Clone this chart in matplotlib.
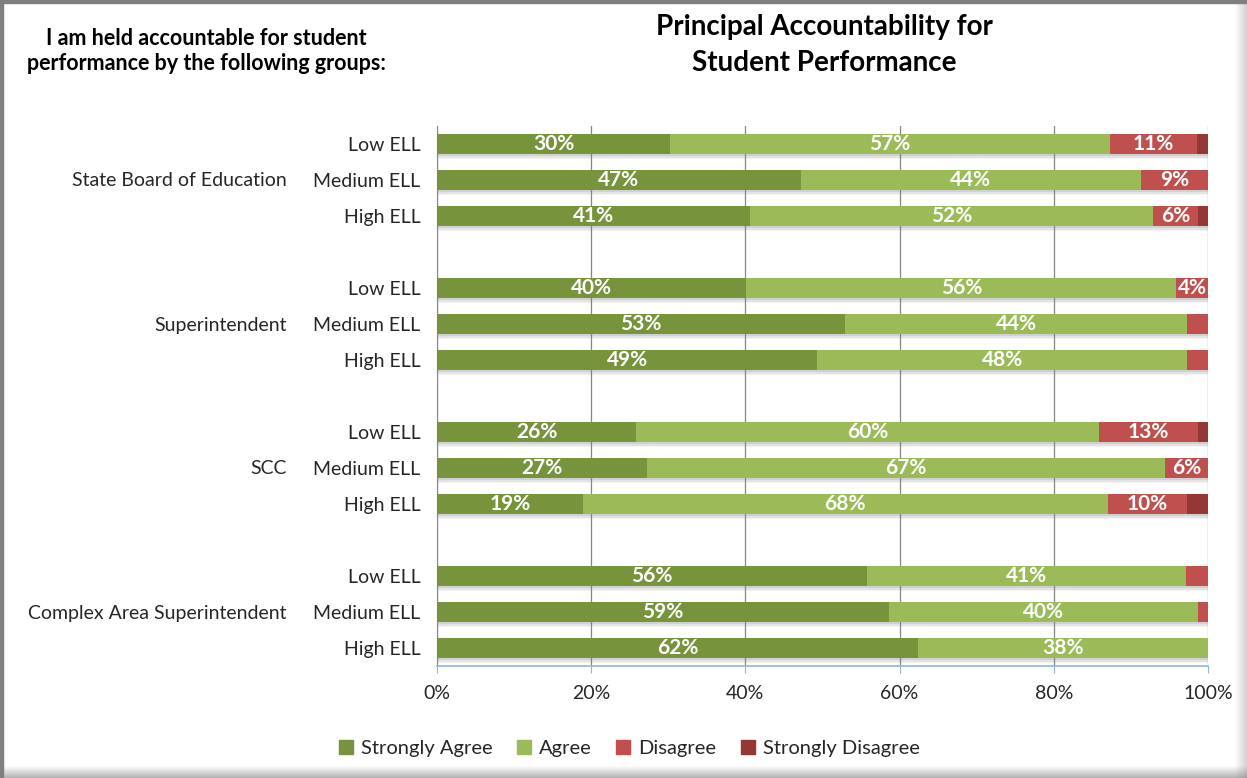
import matplotlib
matplotlib.use("Agg")
import matplotlib.pyplot as plt
from matplotlib.patches import Rectangle
from matplotlib.lines import Line2D
import numpy as np

plt.rcParams["font.family"] = ["Lato", "DejaVu Sans"]

# data (percent of principals)
groups = ["State Board of Education", "Superintendent", "SCC", "Complex Area Superintendent"]
levels = ["Low ELL", "Medium ELL", "High ELL"]
series = ["Strongly Agree", "Agree", "Disagree", "Strongly Disagree"]
strongly_agree = [30.2, 47.2, 40.6, 40.1, 52.9, 49.3, 25.8, 27.2, 18.9, 55.8, 58.6, 62.4]
agree = [57.1, 44.1, 52.3, 55.8, 44.4, 48.0, 60.1, 67.2, 68.1, 41.4, 40.1, 37.6]
disagree = [11.3, 8.7, 5.8, 4.1, 2.7, 2.7, 12.8, 5.6, 10.3, 2.8, 1.3, 0.0]
strongly_disagree = [1.4, 0.0, 1.3, 0.0, 0.0, 0.0, 1.3, 0.0, 2.7, 0.0, 0.0, 0.0]

colors = ["#77933C", "#9BBB59", "#C0504D", "#953735"]

W, H = 1247, 778
fig = plt.figure(figsize=(W / 100, H / 100), dpi=100)
ax = fig.add_axes([437 / W, 1 - 666 / H, 771 / W, 540 / H])

# row positions: 3 rows per group, one blank slot between groups
ypos = np.array([g * 4 + i for g in range(len(groups)) for i in range(len(levels))], dtype=float)
bar_h = 0.56

data = [strongly_agree, agree, disagree, strongly_disagree]
totals = np.sum(data, axis=0)

# soft shadow under bars
for off, a in [(0.05, 0.18), (0.10, 0.14), (0.15, 0.08)]:
    ax.barh(ypos + off, totals, height=bar_h, color="#7f7f7f", alpha=a,
            edgecolor="none", zorder=2)

left = np.zeros(len(ypos))
for vals, name, col in zip(data, series, colors):
    vals = np.array(vals)
    ax.barh(ypos, vals, left=left, height=bar_h, color=col, edgecolor="none",
            label=name, zorder=3)
    for y, l, v in zip(ypos, left, vals):
        if v >= 3.5:
            ax.text(l + v / 2, y, f"{int(round(v))}%", ha="center", va="center",
                    color="white", fontsize=15, fontweight="bold", zorder=4)
    left += vals

ax.set_xlim(0, 100)
ax.set_ylim(14.5, -0.5)
ax.set_xticks([0, 20, 40, 60, 80, 100])
ax.set_xticklabels([f"{t}%" for t in [0, 20, 40, 60, 80, 100]], fontsize=14, color="#262626")
ax.set_yticks(ypos)
ax.set_yticklabels(levels * len(groups), fontsize=14, color="#262626")
ax.tick_params(axis="y", length=0, pad=12)
ax.tick_params(axis="x", length=5, direction="out", color="#95B3D7", pad=9)

ax.grid(axis="x", color="#868686", linewidth=0.9, zorder=0)
ax.set_axisbelow(True)
for s in ["top", "right"]:
    ax.spines[s].set_visible(False)
ax.spines["left"].set_color("#868686")
ax.spines["bottom"].set_color("#95B3D7")
ax.spines["bottom"].set_linewidth(1.2)

# group labels
for g, name in enumerate(groups):
    y_fig = 1 - (145 + 36 * (g * 4 + 1)) / H
    fig.text(287 / W, y_fig, name, ha="right", va="center", fontsize=14, color="#262626")

fig.text(824 / W, 1 - 45 / H, "Principal Accountability for\nStudent Performance",
         ha="center", va="center", fontsize=20, fontweight="bold", linespacing=1.45)
fig.text(206 / W, 1 - 51 / H, "I am held accountable for student\nperformance by the following groups:",
         ha="center", va="center", fontsize=15.5, fontweight="bold", linespacing=1.2)

handles = [Line2D([], [], marker="s", linestyle="none", markersize=10, color=c) for c in colors]
fig.legend(handles, series, loc="center", bbox_to_anchor=(629 / W, 1 - 748 / H),
           ncol=4, frameon=False, fontsize=14.5, handlelength=0.8, handletextpad=0.35,
           columnspacing=1.15, labelcolor="#262626")

# chart frame with shadow
fig.patches.append(Rectangle((0, 0), 3 / W, 1, transform=fig.transFigure, color="#7f7f7f", zorder=10))
fig.patches.append(Rectangle((0, 1 - 3 / H), 1, 3 / H, transform=fig.transFigure, color="#7f7f7f", zorder=10))
for k in range(12):
    a = 0.03 + 0.05 * k
    fig.patches.append(Rectangle((0, (11 - k) / H), 1, 1 / H, transform=fig.transFigure,
                                 color="#7f7f7f", alpha=min(a, 0.9), zorder=10, linewidth=0))
    fig.patches.append(Rectangle(((W - 12 + k) / W, 0), 1 / W, 1, transform=fig.transFigure,
                                 color="#7f7f7f", alpha=min(a * 0.6, 0.6), zorder=10, linewidth=0))

fig.savefig("out.png", dpi=100)
